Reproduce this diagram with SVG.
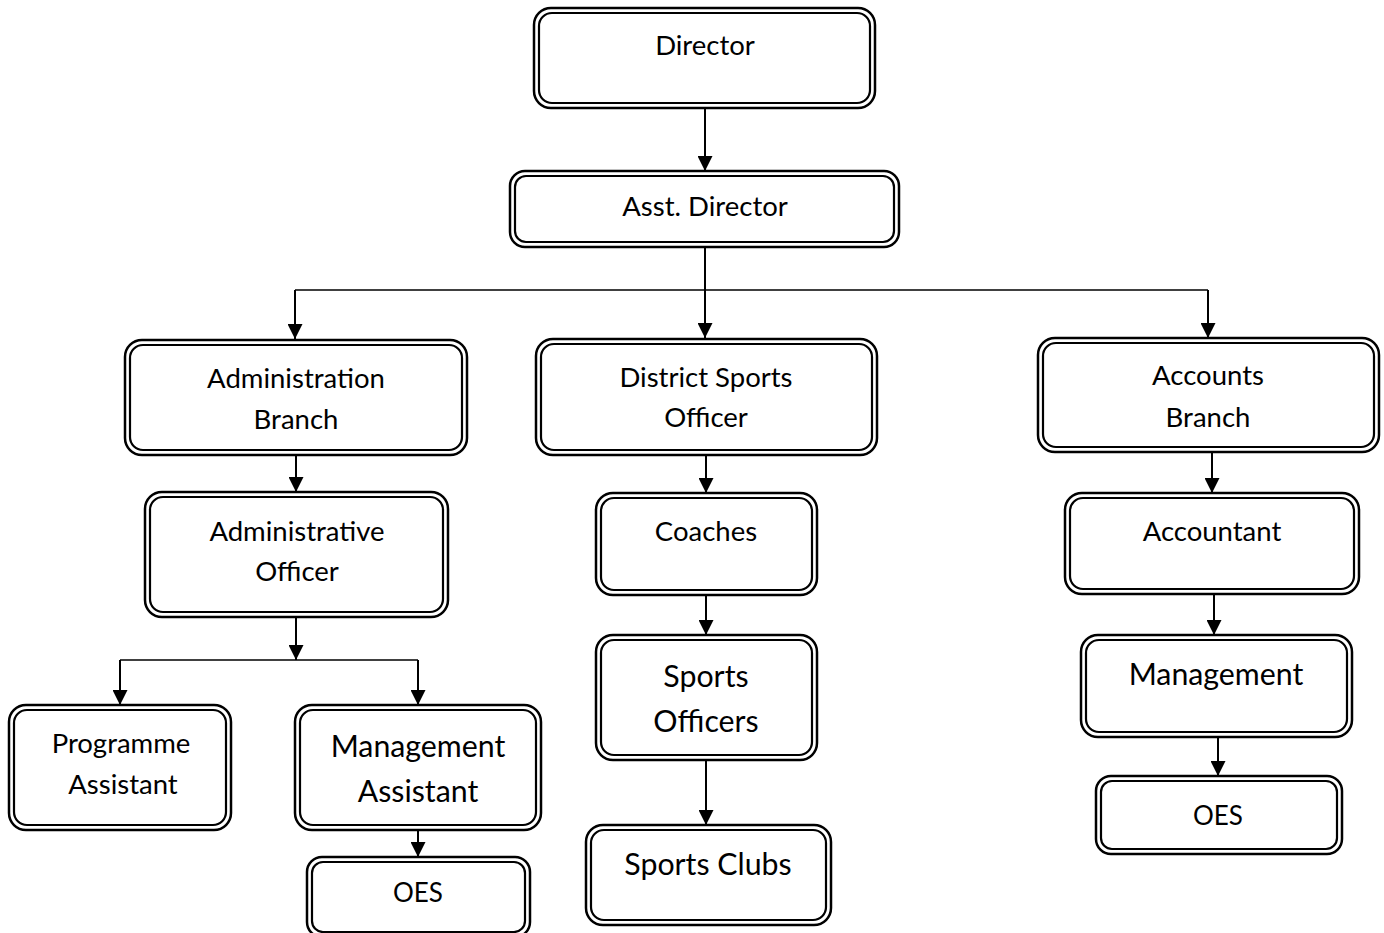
<svg xmlns="http://www.w3.org/2000/svg" width="1384" height="933" viewBox="0 0 1384 933">
<defs>
<style>
.o{fill:#fff;stroke:#000;stroke-width:2.5}
.i{fill:none;stroke:#000;stroke-width:2.2}
.t{font-family:Lato,"Liberation Sans",sans-serif;font-size:27.5px;fill:#000;text-anchor:middle}
.L{font-size:30.3px}
.s{font-size:26px}
.c{fill:none;stroke:#000;stroke-width:2}
.h{fill:none;stroke:#000;stroke-width:1.6}
</style>
<marker id="ah" markerUnits="userSpaceOnUse" markerWidth="15" markerHeight="15" viewBox="0 0 15 15" refX="15" refY="7.5" orient="auto">
<path d="M0,0 L15,7.5 L0,15 z" fill="#000"/>
</marker>
</defs>
<rect width="1384" height="933" fill="#fff"/>
<g id="connectors">
<path class="c" d="M705,108 V171" marker-end="url(#ah)"/>
<path class="c" d="M705,247 V338" marker-end="url(#ah)"/>
<path class="h" d="M295,290 H1208"/>
<path class="c" d="M295,290 V339" marker-end="url(#ah)"/>
<path class="c" d="M1208,290 V338" marker-end="url(#ah)"/>
<path class="c" d="M296,455 V492" marker-end="url(#ah)"/>
<path class="c" d="M296,617 V660" marker-end="url(#ah)"/>
<path class="h" d="M120,660 H418"/>
<path class="c" d="M120,660 V705" marker-end="url(#ah)"/>
<path class="c" d="M418,660 V705" marker-end="url(#ah)"/>
<path class="c" d="M418,830 V857" marker-end="url(#ah)"/>
<path class="c" d="M706,455 V493" marker-end="url(#ah)"/>
<path class="c" d="M706,595 V635" marker-end="url(#ah)"/>
<path class="c" d="M706,760 V825" marker-end="url(#ah)"/>
<path class="c" d="M1212,452 V493" marker-end="url(#ah)"/>
<path class="c" d="M1214,594 V635" marker-end="url(#ah)"/>
<path class="c" d="M1218,737 V776" marker-end="url(#ah)"/>
</g>
<g id="director">
<rect class="o" x="534" y="8" width="341" height="100" rx="17"/>
<rect class="i" x="539" y="13" width="331" height="90" rx="13"/>
<text class="t" x="705" y="55">Director</text>
</g>
<g id="asst-director">
<rect class="o" x="510" y="171" width="389" height="76" rx="15"/>
<rect class="i" x="515" y="176" width="379" height="66" rx="11"/>
<text class="t" x="705" y="216">Asst. Director</text>
</g>
<g id="administration-branch">
<rect class="o" x="125" y="340" width="342" height="115" rx="17"/>
<rect class="i" x="130" y="345" width="332" height="105" rx="13"/>
<text class="t" x="296" y="388">Administration</text>
<text class="t" x="296" y="429">Branch</text>
</g>
<g id="district-sports-officer">
<rect class="o" x="536" y="339" width="341" height="116" rx="17"/>
<rect class="i" x="541" y="344" width="331" height="106" rx="13"/>
<text class="t" x="706" y="387">District Sports</text>
<text class="t" x="706" y="427">Officer</text>
</g>
<g id="accounts-branch">
<rect class="o" x="1038" y="338" width="341" height="114" rx="17"/>
<rect class="i" x="1043" y="343" width="331" height="104" rx="13"/>
<text class="t" x="1208" y="385">Accounts</text>
<text class="t" x="1208" y="427">Branch</text>
</g>
<g id="administrative-officer">
<rect class="o" x="145" y="492" width="303" height="125" rx="17"/>
<rect class="i" x="150" y="497" width="293" height="115" rx="13"/>
<text class="t" x="297" y="541">Administrative</text>
<text class="t" x="297" y="581">Officer</text>
</g>
<g id="coaches">
<rect class="o" x="596" y="493" width="221" height="102" rx="17"/>
<rect class="i" x="601" y="498" width="211" height="92" rx="13"/>
<text class="t" x="706" y="541">Coaches</text>
</g>
<g id="accountant">
<rect class="o" x="1065" y="493" width="294" height="101" rx="17"/>
<rect class="i" x="1070" y="498" width="284" height="91" rx="13"/>
<text class="t" x="1212" y="541">Accountant</text>
</g>
<g id="sports-officers">
<rect class="o" x="596" y="635" width="221" height="125" rx="17"/>
<rect class="i" x="601" y="640" width="211" height="115" rx="13"/>
<text class="t L" x="706" y="687">Sports</text>
<text class="t L" x="706" y="732">Officers</text>
</g>
<g id="sports-clubs">
<rect class="o" x="586" y="825" width="245" height="100" rx="17"/>
<rect class="i" x="591" y="830" width="235" height="90" rx="13"/>
<text class="t L" x="708" y="875">Sports Clubs</text>
</g>
<g id="management">
<rect class="o" x="1081" y="635" width="271" height="102" rx="17"/>
<rect class="i" x="1086" y="640" width="261" height="92" rx="13"/>
<text class="t L" x="1216" y="685">Management</text>
</g>
<g id="oes-right">
<rect class="o" x="1096" y="776" width="246" height="78" rx="15"/>
<rect class="i" x="1101" y="781" width="236" height="68" rx="11"/>
<text class="t s" x="1218" y="825">OES</text>
</g>
<g id="programme-assistant">
<rect class="o" x="9" y="705" width="222" height="125" rx="17"/>
<rect class="i" x="14" y="710" width="212" height="115" rx="13"/>
<text class="t" x="121" y="753">Programme</text>
<text class="t" x="123" y="794">Assistant</text>
</g>
<g id="management-assistant">
<rect class="o" x="295" y="705" width="246" height="125" rx="17"/>
<rect class="i" x="300" y="710" width="236" height="115" rx="13"/>
<text class="t L" x="418" y="757">Management</text>
<text class="t L" x="418" y="802">Assistant</text>
</g>
<g id="oes-left">
<rect class="o" x="307" y="857" width="223" height="80" rx="15"/>
<rect class="i" x="312" y="862" width="213" height="70" rx="11"/>
<text class="t s" x="418" y="902">OES</text>
</g>
</svg>
